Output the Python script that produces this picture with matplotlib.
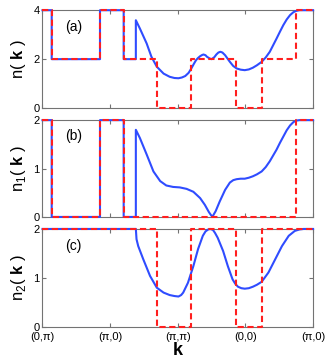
import numpy as np
import matplotlib
matplotlib.use("Agg")
import matplotlib.pyplot as plt

plt.rcParams['font.family'] = ['Liberation Sans', 'DejaVu Sans']
plt.rcParams['mathtext.fontset'] = 'custom'
plt.rcParams['mathtext.rm'] = 'Liberation Sans'
plt.rcParams['mathtext.bf'] = 'Liberation Sans:bold'

# path through the Brillouin zone, one unit per segment
tick_pos = [0, 1, 2, 3, 4]
tick_labels = ['(0,\u03c0)', '(\u03c0,0)', '(\u03c0,\u03c0)', '(0,0)', '(\u03c0,0)']

# red dashed: step functions (edges, value after each edge)
red_a_x = [0, 0.136, 0.85, 1.2, 1.70, 2.20, 2.86, 3.25, 3.75, 4.0]
red_a_y = [4, 2, 4, 2, 0, 2, 0, 2, 4, 4]
red_b_x = [0, 0.136, 0.85, 1.2, 3.75, 4.0]
red_b_y = [2, 0, 2, 0, 2, 2]
red_c_x = [0, 1.70, 2.20, 2.86, 3.25, 4.0]
red_c_y = [2, 0, 2, 0, 2, 2]

# blue solid: n(k)
blue_a_x = [0, 0.136, 0.136, 0.85, 0.85, 1.2, 1.2, 1.38, 1.38, 1.44, 1.54, 1.61,
            1.69, 1.79, 1.88, 1.95, 2.01, 2.06, 2.11, 2.16, 2.20, 2.24, 2.27,
            2.30, 2.33, 2.36, 2.38, 2.41, 2.43, 2.47, 2.50, 2.54, 2.57, 2.60,
            2.63, 2.66, 2.70, 2.77, 2.82, 2.87, 2.93, 2.99, 3.05, 3.11, 3.17,
            3.24, 3.30, 3.36, 3.41, 3.46, 3.51, 3.56, 3.61, 3.66, 3.71, 3.75,
            3.80, 4.0]
blue_a_y = [4, 4, 2, 2, 4, 4, 2, 2, 3.59, 3.25, 2.64, 2.10,
            1.69, 1.41, 1.28, 1.23, 1.22, 1.25, 1.31, 1.44, 1.62, 1.82, 1.96,
            2.05, 2.12, 2.17, 2.19, 2.16, 2.10, 2.03, 2.00, 2.08, 2.19, 2.27,
            2.30, 2.27, 2.16, 1.89, 1.72, 1.62, 1.57, 1.55, 1.58, 1.65, 1.75,
            1.89, 2.07, 2.30, 2.57, 2.84, 3.12, 3.39, 3.62, 3.80, 3.92, 3.97,
            4.0, 4.0]

# blue solid: n1(k)
blue_b_x = [0, 0.136, 0.136, 0.85, 0.85, 1.2, 1.2, 1.38, 1.38, 1.44, 1.54, 1.64,
            1.74, 1.83, 1.93, 2.03, 2.13, 2.23, 2.33, 2.40, 2.46, 2.51, 2.56,
            2.62, 2.70, 2.77, 2.82, 2.87, 2.93, 2.99, 3.05, 3.11, 3.17, 3.24,
            3.30, 3.36, 3.41, 3.46, 3.51, 3.56, 3.61, 3.66, 3.71, 3.75, 3.80,
            4.0]
blue_b_y = [2, 2, 0, 0, 2, 2, 0, 0, 1.80, 1.63, 1.29, 0.94,
            0.74, 0.65, 0.62, 0.61, 0.58, 0.52, 0.39, 0.25, 0.10, 0.0, 0.12,
            0.32, 0.56, 0.71, 0.76, 0.78, 0.79, 0.79, 0.81, 0.84, 0.88, 0.94,
            1.03, 1.15, 1.27, 1.39, 1.53, 1.66, 1.79, 1.89, 1.96, 1.99, 2.0,
            2.0]

# blue solid: n2(k)
blue_c_x = [0, 1.38, 1.39, 1.415, 1.49, 1.59, 1.69, 1.79, 1.88, 1.95, 2.01, 2.05,
            2.08, 2.15, 2.23, 2.30, 2.37, 2.41, 2.45, 2.48, 2.52, 2.55, 2.59,
            2.67, 2.74, 2.81, 2.85, 2.89, 2.94, 2.99, 3.05, 3.11, 3.17, 3.24,
            3.34, 3.44, 3.54, 3.64, 3.73, 3.80, 3.86, 4.0]
blue_c_y = [2, 2, 1.79, 1.65, 1.38, 1.04, 0.80, 0.70, 0.65, 0.63, 0.62, 0.65,
            0.70, 0.90, 1.24, 1.59, 1.86, 1.95, 1.99, 2.0, 1.98, 1.92, 1.82,
            1.55, 1.24, 0.97, 0.88, 0.82, 0.79, 0.78, 0.79, 0.82, 0.86, 0.92,
            1.11, 1.38, 1.65, 1.86, 1.96, 1.99, 2.0, 2.0]

panels = [
    (blue_a_x, blue_a_y, red_a_x, red_a_y, 4, [0, 2, 4], r'n( $\mathbf{k}$ )', '(a)'),
    (blue_b_x, blue_b_y, red_b_x, red_b_y, 2, [0, 1, 2], r'n$_1$( $\mathbf{k}$ )', '(b)'),
    (blue_c_x, blue_c_y, red_c_x, red_c_y, 2, [0, 1, 2], r'n$_2$( $\mathbf{k}$ )', '(c)'),
]

fig = plt.figure(figsize=(3.32, 3.64), dpi=100)
bottoms = [0.703, 0.404, 0.102]
heights = [0.269, 0.266, 0.269]

for i, (bx, by, rx, ry, ymax, yt, ylab, tag) in enumerate(panels):
    ax = fig.add_axes([0.128, bottoms[i], 0.815, heights[i]])
    ax.plot(bx, by, color='#2f4cff', lw=1.5, clip_on=False, zorder=3)
    ax.plot(rx, ry, color='#ff1f1f', lw=1.5, drawstyle='steps-post',
            linestyle=(0, (3, 1.7)), clip_on=False, zorder=4)
    ax.set_xlim(0, 4)
    ax.set_ylim(0, ymax)
    ax.set_yticks(yt)
    ax.set_xticks(tick_pos)
    if i == 2:
        ax.set_xticklabels(tick_labels)
        ax.set_xlabel(r'$\mathbf{k}$', fontsize=13, labelpad=0)
    else:
        ax.set_xticklabels([])
    ax.set_ylabel(ylab, fontsize=12, labelpad=4)
    ax.text(0.33, 0.79 * ymax, tag, fontsize=10)
    ax.tick_params(direction='in', length=3, top=True, right=True,
                   color='0.45', labelsize=8, pad=2)
    ax.tick_params(axis='x', pad=4)
    for sp in ax.spines.values():
        sp.set_color('0.45')

fig.savefig('out.png', dpi=100)
